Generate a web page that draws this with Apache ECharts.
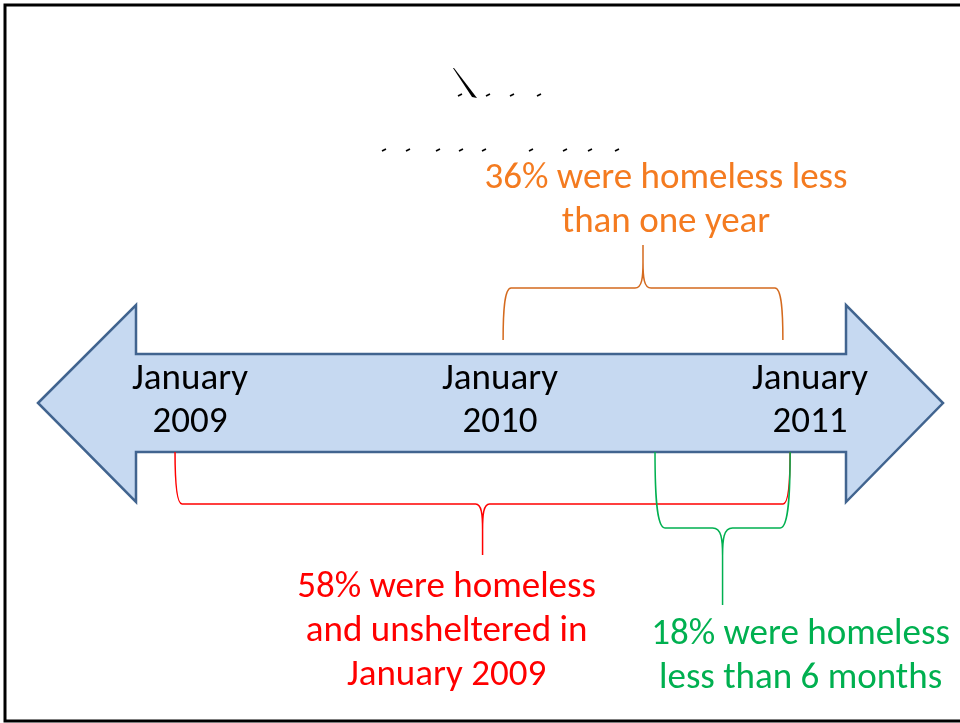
<!DOCTYPE html>
<html>
<head>
<meta charset="utf-8">
<script src="https://cdn.jsdelivr.net/npm/echarts@6/dist/echarts.min.js"></script>
<style>
html,body{margin:0;padding:0;background:#fff;}
#chart{width:960px;height:723px;}
</style>
</head>
<body>
<div id="chart"></div>
<script>
// ---- data ----
const tickMonths = [0, 12, 24];                       // months after January 2009
const tickLabels = ['January\n2009', 'January\n2010', 'January\n2011'];
const spanNames = ['58% were homeless\nand unsheltered in\nJanuary 2009',
                   '36% were homeless less\nthan one year',
                   '18% were homeless\nless than 6 months'];
const spanPercent = [58, 36, 18];
const spanStart = [-0.58, 12.12, 18.0];               // months
const spanEnd = [23.23, 22.95, 23.23];                // months

// ---- layout / style (not data) ----
const FONT = 'Carlito, Calibri, Lato, sans-serif';
const spanStyle = [
  {line: '#FF0000', text: '#FF0000', yEnd: 452, yH: 504, yTip: 555, d: 7, c: 26, ty: 632, dx: -36},
  {line: '#D46A1E', text: '#F47B20', yEnd: 340, yH: 288, yTip: 245, d: 8, c: 26, ty: 201, dx: 23},
  {line: '#00B050', text: '#00B050', yEnd: 452, yH: 528, yTip: 605, d: 10, c: 28, ty: 657, dx: 78}
];

function bracePath(x0, x1, s) {
  const sg = s.yH > s.yEnd ? 1 : -1;
  const xc = (x0 + x1) / 2;
  const yE = s.yEnd, yH = s.yH, d = s.d, c = s.c;
  return 'M' + x0 + ',' + yE +
    ' C' + x0 + ',' + ((yE + yH) / 2) + ' ' + (x0 + 1) + ',' + yH + ' ' + (x0 + d) + ',' + yH +
    ' L' + (xc - d) + ',' + yH +
    ' C' + (xc - 1) + ',' + yH + ' ' + xc + ',' + (yH + sg * c * 0.4) + ' ' + xc + ',' + (yH + sg * c) +
    ' L' + xc + ',' + s.yTip +
    ' M' + x1 + ',' + yE +
    ' C' + x1 + ',' + ((yE + yH) / 2) + ' ' + (x1 - 1) + ',' + yH + ' ' + (x1 - d) + ',' + yH +
    ' L' + (xc + d) + ',' + yH +
    ' C' + (xc + 1) + ',' + yH + ' ' + xc + ',' + (yH + sg * c * 0.4) + ' ' + xc + ',' + (yH + sg * c);
}

const spanData = spanNames.map((n, i) => [spanStart[i], spanEnd[i], i, spanPercent[i]]);
const tickData = tickMonths.map((m, i) => [m, i]);

// artifacts of the garbled title
const titleDots = [[460,95],[488,95],[512,95],[539,95],
  [384,150],[408,150],[438,150],[461,150],[484,150],[531,150],[565,150],[590,150],[617,150]];

const chart = echarts.init(document.getElementById('chart'), null, {renderer: 'canvas'});
const option = {
  backgroundColor: '#fff',
  animation: false,
  grid: {left: 0, right: 0, top: 0, bottom: 0},
  xAxis: {type: 'value', min: -7.355, max: 29.806, show: false},
  yAxis: {type: 'value', min: 0, max: 723, inverse: true, show: false},
  graphic: [
    {type: 'rect', z: 0, shape: {x: 5, y: 5, width: 965, height: 716},
     style: {fill: '#fff', stroke: '#000', lineWidth: 3}},
    {type: 'polygon', z: 1,
     shape: {points: [[38,403],[136,305],[136,354],[846,354],[846,305],[943,403],[846,502],[846,452],[136,452],[136,502]]},
     style: {fill: '#C6D9F1', stroke: '#41648F', lineWidth: 2.5}},
    {type: 'polygon', z: 1, shape: {points: [[453,68],[454,68],[477,98],[472,97]]}, style: {fill: '#000'}}
  ].concat(titleDots.map(p => ({type: 'line', z: 1,
     shape: {x1: p[0] - 2, y1: p[1] + 1, x2: p[0] + 2, y2: p[1] - 1},
     style: {stroke: '#000', lineWidth: 1.6}}))),
  series: [
    {
      type: 'custom', z: 10, data: tickData,
      renderItem: function (params, api) {
        const p = api.coord([api.value(0), 0]);
        return {type: 'text', style: {text: tickLabels[api.value(1)], x: p[0], y: 401,
          align: 'center', verticalAlign: 'middle', fontSize: 37, fontFamily: FONT,
          lineHeight: 43, fill: '#000'}};
      }
    },
    {
      type: 'custom', z: 10, data: spanData,
      renderItem: function (params, api) {
        const i = api.value(2);
        const s = spanStyle[i];
        const x0 = api.coord([api.value(0), 0])[0];
        const x1 = api.coord([api.value(1), 0])[0];
        const xc = (x0 + x1) / 2;
        return {type: 'group', children: [
          {type: 'path', shape: {pathData: bracePath(x0, x1, s)},
           style: {fill: null, stroke: s.line, lineWidth: 1.5}},
          {type: 'text', style: {text: spanNames[i], x: xc + s.dx, y: s.ty,
            align: 'center', verticalAlign: 'middle', fontSize: 37, fontFamily: FONT,
            lineHeight: 44, fill: s.text}}
        ]};
      }
    }
  ]
};
chart.setOption(option);
</script>
</body>
</html>
